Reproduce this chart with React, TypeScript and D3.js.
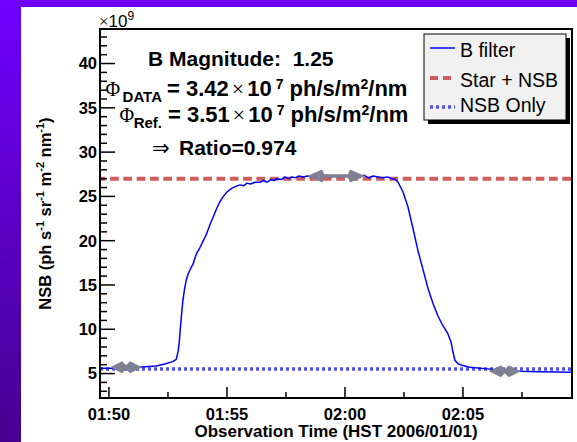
import React from 'react';
import * as d3 from 'd3';

const W = 577;
const H = 442;

// B filter curve: minutes after 01:50 (HST) and NSB value (x1e9)
const curveT = [
  -0.38, 0.2, 0.8, 1.4, 2.0, 2.4, 2.7, 2.85, 2.93, 2.98, 3.03, 3.08, 3.13, 3.2, 3.28, 3.36, 3.45,
  3.57, 3.65, 3.72, 3.85, 4.0, 4.14, 4.28, 4.42, 4.56, 4.7, 4.85, 5.0, 5.2, 5.35, 5.55, 5.7, 5.85,
  6.0, 6.2, 6.4, 6.55, 6.7, 6.85, 7.0, 7.11, 7.3, 7.45, 7.6, 7.75, 7.9, 8.05, 8.23, 8.4, 8.6, 8.8,
  9.0, 9.2, 9.4, 9.6, 9.8, 10.0, 10.2, 10.4, 10.6, 10.8, 11.0, 11.2, 11.4, 11.6, 11.8, 12.0, 12.15,
  12.25, 12.46, 12.67, 12.88, 13.09, 13.31, 13.52, 13.73, 13.94, 14.15, 14.36, 14.49, 14.58, 14.66,
  14.79, 15.0, 15.3, 16.14, 17.42, 18.26, 19.62,
];
const curveV = [
  5.6, 5.6, 5.65, 5.75, 5.85, 6.1, 6.35, 6.6, 7.5, 8.6, 10.3, 11.8, 13.2, 14.5, 15.6, 16.3, 16.8,
  17.4, 18.1, 18.6, 19.2, 20.0, 20.8, 21.8, 22.7, 23.6, 24.4, 25.0, 25.5, 25.9, 26.1, 26.3, 26.2, 26.5,
  26.4, 26.6, 26.6, 26.8, 26.6, 26.9, 26.8, 27.0, 26.9, 27.2, 27.0, 27.2, 27.1, 27.3, 27.2, 27.3, 27.2, 27.3,
  27.2, 27.4, 27.2, 27.3, 27.2, 27.4, 27.1, 27.3, 27.2, 27.4, 27.1, 27.3, 27.2, 27.1, 27.2, 27.0, 26.9,
  26.6, 25.5, 23.8, 21.4, 18.9, 16.7, 14.6, 12.9, 11.5, 10.4, 9.5, 8.6, 7.4, 6.5,
  6.1, 5.9, 5.7, 5.5, 5.25, 5.2, 5.15,
];

const xTickTimes = [0, 5, 10, 15];
const xTickLabels = ['01:50', '01:55', '02:00', '02:05'];
const yTickValues = [5, 10, 15, 20, 25, 30, 35, 40];

const starNsbLevel = 27.0;
const nsbOnlyLevel = 5.5;

const arrowStart = [0.05, 8.4, 16.1];
const arrowEnd = [1.4, 10.85, 17.45];
const arrowLevel = [5.7, 27.3, 5.25];

const legendLabels = ['B filter', 'Star + NSB', 'NSB Only'];

const SANS = '"Liberation Sans", Arial, sans-serif';
const SERIF = '"Liberation Serif", "Times New Roman", serif';

export default function App() {
  const left = 100, right = 572, top = 29, bottom = 398;
  const x = d3.scaleLinear().domain([-0.38, 19.62]).range([left, right]);
  const y = d3.scaleLinear().domain([2.24, 43.9]).range([bottom, top]);

  const line = d3
    .line<number>()
    .x((_, i) => x(curveT[i]))
    .y((d) => y(d));

  const minorX = d3.range(0, 20, 2.5).filter((t) => x(t) <= right);
  const minorY = d3.range(3, 44, 1);

  const arrowPath = (x1: number, x2: number, yy: number, big: boolean) => {
    const a = big ? 15 : 12;
    const b = big ? 17 : 16;
    const hw = big ? 6.5 : 6;
    const st = big ? 3.5 : 4;
    const p = [
      [x1, yy],
      [x1 + a, yy - hw],
      [x1 + b, yy - st / 2],
      [x2 - b, yy - st / 2],
      [x2 - a, yy - hw],
      [x2, yy],
      [x2 - a, yy + hw],
      [x2 - b, yy + st / 2],
      [x1 + b, yy + st / 2],
      [x1 + a, yy + hw],
    ];
    return 'M' + p.map((q) => q.join(',')).join('L') + 'Z';
  };

  const lg = { x: 424, y: 34, w: 142, h: 86 };
  const lgRows = [48, 78, 107];
  const lgBase = [57, 87, 112];

  return (
    <div style={{ position: 'absolute', left: 0, top: 0 }}>
      <svg width={W} height={H} viewBox={`0 0 ${W} ${H}`} style={{ display: 'block' }}>
        <defs>
          <linearGradient id="bg" x1="0" y1="0" x2="0" y2="1">
            <stop offset="0" stopColor="#7000ff" />
            <stop offset="1" stopColor="#46008f" />
          </linearGradient>
          <clipPath id="plotclip">
            <rect x={left} y={top} width={right - left} height={bottom - top} />
          </clipPath>
        </defs>
        <rect x={0} y={0} width={W} height={H} fill="url(#bg)" />
        <rect x={21} y={7} width={W - 21} height={H - 7} fill="#ffffff" />

        {/* reference lines */}
        <g clipPath="url(#plotclip)">
          <line
            x1={left}
            x2={right}
            y1={y(starNsbLevel)}
            y2={y(starNsbLevel)}
            stroke="#d05c5c"
            strokeWidth={4}
            strokeDasharray="8.7,4.6"
            strokeDashoffset={3.2}
          />
          <line
            x1={left}
            x2={right}
            y1={y(nsbOnlyLevel)}
            y2={y(nsbOnlyLevel)}
            stroke="#5252e6"
            strokeWidth={3.5}
            strokeDasharray="3,3"
          />
          <path d={line(curveV) || ''} fill="none" stroke="#0000ff" strokeWidth={1.5} strokeLinejoin="round" />
          {arrowStart.map((s, i) => (
            <path
              key={i}
              d={arrowPath(x(s), x(arrowEnd[i]), y(arrowLevel[i]), i === 1)}
              fill="#808092"
            />
          ))}
        </g>

        {/* ticks */}
        <g stroke="#000" strokeWidth={1.5}>
          {minorY.map((v) => {
            const major = v % 5 === 0;
            return <line key={'y' + v} x1={left} x2={left + (major ? 15 : 7)} y1={y(v)} y2={y(v)} />;
          })}
          {minorX.map((t) => {
            const major = t % 5 === 0;
            return <line key={'x' + t} x1={x(t)} x2={x(t)} y1={bottom} y2={bottom - (major ? 11 : 6)} />;
          })}
        </g>
        <rect x={left} y={top} width={right - left} height={bottom - top} fill="none" stroke="#000" strokeWidth={2} />

        {/* tick labels */}
        <g fontFamily={SANS} fontWeight="bold" fontSize={16.5} fill="#000">
          {yTickValues.map((v) => (
            <text key={v} x={left - 3} y={y(v)} dy="0.36em" textAnchor="end">
              {v}
            </text>
          ))}
          {xTickTimes.map((t, i) => (
            <text key={t} x={x(t)} y={420} textAnchor="middle">
              {xTickLabels[i]}
            </text>
          ))}
        </g>

        {/* axis titles */}
        <text x={(left + right) / 2} y={437} textAnchor="middle" fontFamily={SANS} fontWeight="bold" fontSize={17}>
          Observation Time (HST 2006/01/01)
        </text>
        <text
          transform={`translate(51, ${(top + bottom) / 2}) rotate(-90)`}
          textAnchor="middle"
          fontFamily={SANS}
          fontWeight="bold"
          fontSize={16.5}
        >
          <tspan>NSB (ph s</tspan>
          <tspan fontSize={11} dy={-7}>-1</tspan>
          <tspan dy={7}> sr</tspan>
          <tspan fontSize={11} dy={-7}>-1</tspan>
          <tspan dy={7}> m</tspan>
          <tspan fontSize={11} dy={-7}>-2</tspan>
          <tspan dy={7}> nm</tspan>
          <tspan fontSize={11} dy={-7}>-1</tspan>
          <tspan dy={7}>)</tspan>
        </text>

        {/* x10^9 */}
        <text x={99} y={27} fontFamily={SANS} fontSize={17}>
          <tspan fontFamily={SERIF}>×</tspan>
          <tspan>10</tspan>
          <tspan fontSize={12} y={20}>9</tspan>
        </text>

        {/* annotations */}
        <text x={148} y={66} fontFamily={SANS} fontWeight="bold" fontSize={21} style={{ whiteSpace: 'pre' }}>
          {'B Magnitude:  1.25'}
        </text>

        <text x={120} y={96} textAnchor="end" fontFamily={SERIF} fontSize={20}>Φ</text>
        <text x={162} y={102} textAnchor="end" fontFamily={SANS} fontWeight="bold" fontSize={15}>DATA</text>
        <text x={167} y={96} fontFamily={SANS} fontWeight="bold" fontSize={22} style={{ whiteSpace: 'pre' }}>
          <tspan>{'= 3.42'}</tspan>
          <tspan fontFamily={SERIF} fontWeight="normal" dx={3}>×</tspan>
          <tspan dx={3}>10</tspan>
          <tspan fontSize={14} y={89} dx={4}>7</tspan>
          <tspan y={96}>{' ph/s/m'}</tspan>
          <tspan fontSize={14} y={89}>2</tspan>
          <tspan y={96}>/nm</tspan>
        </text>

        <text x={134} y={122} textAnchor="end" fontFamily={SERIF} fontSize={20}>Φ</text>
        <text x={162} y={128} textAnchor="end" fontFamily={SANS} fontWeight="bold" fontSize={15}>Ref.</text>
        <text x={168} y={122} fontFamily={SANS} fontWeight="bold" fontSize={22} style={{ whiteSpace: 'pre' }}>
          <tspan>{'= 3.51'}</tspan>
          <tspan fontFamily={SERIF} fontWeight="normal" dx={3}>×</tspan>
          <tspan dx={3}>10</tspan>
          <tspan fontSize={14} y={115} dx={4}>7</tspan>
          <tspan y={122}>{' ph/s/m'}</tspan>
          <tspan fontSize={14} y={115}>2</tspan>
          <tspan y={122}>/nm</tspan>
        </text>

        <text x={152} y={155} fontFamily='"DejaVu Sans", sans-serif' fontSize={21}>⇒</text>
        <text x={179} y={155} fontFamily={SANS} fontWeight="bold" fontSize={21}>Ratio=0.974</text>

        {/* legend */}
        <rect x={lg.x + 4} y={lg.y + 4} width={lg.w} height={lg.h} fill="#000" />
        <rect x={lg.x} y={lg.y} width={lg.w} height={lg.h} fill="#f1f1f1" stroke="#000" strokeWidth={1} />
        <line x1={430} x2={455} y1={lgRows[0]} y2={lgRows[0]} stroke="#0000ff" strokeWidth={1.5} />
        <line x1={430} x2={455} y1={lgRows[1]} y2={lgRows[1]} stroke="#d05c5c" strokeWidth={4} strokeDasharray="8,5" />
        <line x1={430} x2={455} y1={lgRows[2]} y2={lgRows[2]} stroke="#5252e6" strokeWidth={3.5} strokeDasharray="3,3" />
        {legendLabels.map((l, i) => (
          <text key={l} x={460} y={lgBase[i]} fontFamily={SANS} fontSize={19.5}>
            {l}
          </text>
        ))}
      </svg>
    </div>
  );
}
